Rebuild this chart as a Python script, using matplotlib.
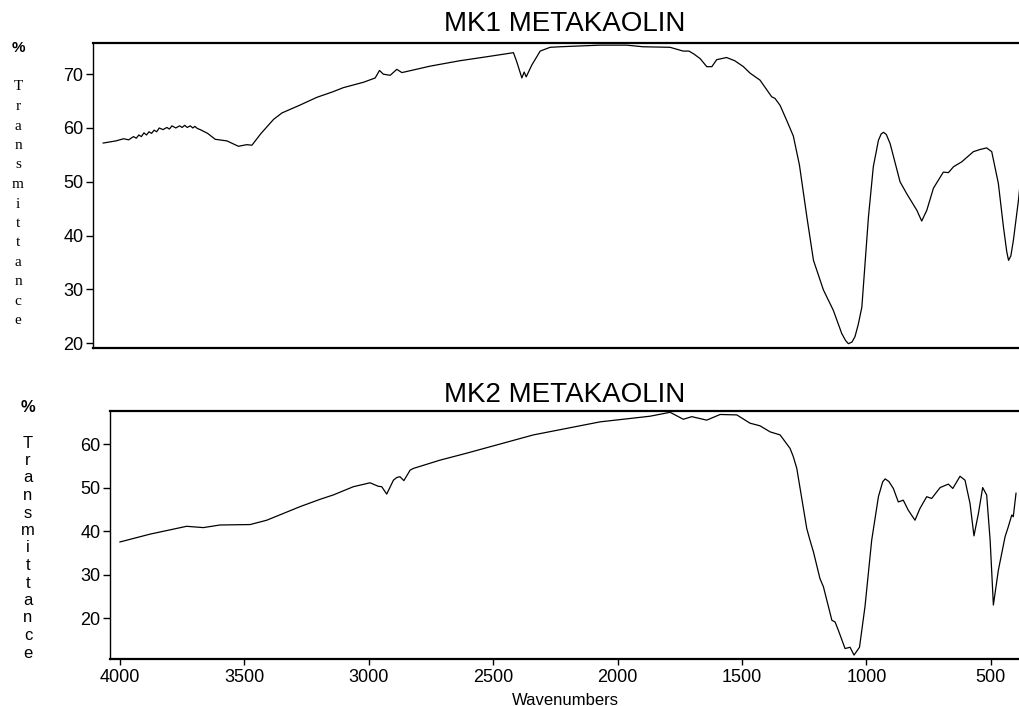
import matplotlib
matplotlib.use('Agg')
import matplotlib.pyplot as plt

# MK1 spectrum: wavenumber (cm-1) and % transmittance
mk1_wn = [4000, 3950, 3920, 3900, 3881, 3870, 3860, 3850, 3840, 3830, 3820, 3810, 3800,
          3790, 3780, 3765, 3750, 3740, 3730, 3715, 3700, 3690, 3680, 3670, 3658, 3648,
          3640, 3630, 3619, 3590, 3560, 3514, 3469, 3436, 3416, 3380, 3331, 3298,
          3230, 3161, 3100, 3057, 2978, 2932, 2915, 2900, 2873, 2847, 2827, 2716, 2600,
          2500, 2389, 2376, 2356, 2347, 2339, 2317, 2284, 2245, 2206, 2049, 1944, 1880,
          1774, 1723, 1700, 1682, 1656, 1630, 1610, 1591, 1552, 1520, 1486, 1460, 1421,
          1375, 1362, 1342, 1316, 1290, 1266, 1237, 1211, 1172, 1133, 1100, 1085, 1074,
          1060, 1048, 1035, 1021, 995, 976, 956, 945, 936, 925, 910, 871, 845, 805, 786,
          766, 740, 701, 681, 661, 629, 583, 557, 531, 511, 485, 465, 452, 445, 436, 426,
          406, 400]
mk1_t = [57.2, 57.6, 58.0, 57.8, 58.4, 58.1, 58.7, 58.4, 59.1, 58.7, 59.3, 59.0, 59.6,
         59.3, 60.0, 59.7, 60.1, 59.8, 60.4, 60.0, 60.4, 60.1, 60.5, 60.1, 60.4, 60.0,
         60.3, 59.9, 59.7, 59.0, 57.9, 57.6, 56.6, 56.9, 56.8, 59.0, 61.6, 62.8,
         64.2, 65.7, 66.7, 67.5, 68.5, 69.3, 70.7, 70.0, 69.8, 70.9, 70.3, 71.5, 72.5,
         73.2, 74.0, 72.3, 69.3, 70.4, 69.5, 71.7, 74.3, 75.0, 75.1, 75.4, 75.4, 75.1,
         75.0, 74.3, 74.3, 73.8, 72.9, 71.4, 71.4, 72.7, 73.1, 72.5, 71.4, 70.2, 68.9,
         65.8, 65.5, 64.2, 61.4, 58.5, 53.1, 43.5, 35.4, 29.9, 26.1, 21.8, 20.5, 19.9,
         20.2, 21.2, 23.5, 26.7, 43.5, 52.8, 57.7, 58.9, 59.2, 58.8, 57.1, 50.0, 47.8,
         44.7, 42.7, 44.7, 48.8, 51.8, 51.7, 52.8, 53.7, 55.6, 56.0, 56.3, 55.6, 49.7,
         41.6, 37.0, 35.4, 36.2, 39.1, 46.6, 49.4]

# MK2 spectrum
mk2_wn = [4000, 3879, 3732, 3665, 3598, 3477, 3410, 3277, 3196, 3143, 3062, 2995, 2962,
          2948, 2928, 2901, 2888, 2875, 2859, 2834, 2821, 2714, 2607, 2339, 2071, 1870,
          1789, 1736, 1702, 1642, 1588, 1521, 1468, 1428, 1387, 1347, 1307, 1294, 1280,
          1260, 1240, 1227, 1213, 1187, 1173, 1139, 1126, 1113, 1086, 1066, 1050, 1028,
          1006, 979, 952, 935, 925, 910, 892, 872, 852, 832, 805, 785, 758, 738, 704,
          671, 653, 624, 604, 584, 568, 550, 533, 517, 503, 490, 470, 443, 430, 416,
          410, 399]
mk2_t = [37.5, 39.3, 41.1, 40.8, 41.4, 41.5, 42.5, 45.6, 47.3, 48.3, 50.2, 51.1, 50.3,
         50.2, 48.5, 51.7, 52.3, 52.5, 51.6, 54.0, 54.4, 56.3, 57.9, 62.1, 65.1, 66.4,
         67.3, 65.7, 66.3, 65.5, 66.8, 66.7, 64.8, 64.2, 62.8, 62.1, 59.0, 57.1, 54.4,
         47.5, 40.6, 37.9, 35.2, 29.1, 27.2, 19.5, 19.1, 17.2, 13.0, 13.3, 11.5, 13.3,
         22.6, 37.9, 47.9, 51.3, 52.0, 51.4, 49.8, 46.7, 47.1, 44.8, 42.5, 45.2, 47.9,
         47.5, 50.0, 50.8, 49.8, 52.6, 51.7, 46.4, 38.9, 44.1, 50.0, 48.3, 37.9, 23.0,
         31.0, 38.7, 41.0, 43.7, 43.3, 48.7]

mk1_yticks = [20, 30, 40, 50, 60, 70]
mk2_yticks = [20, 30, 40, 50, 60]
x_ticks = [4000, 3500, 3000, 2500, 2000, 1500, 1000, 500]

fig = plt.figure(figsize=(10.2, 7.06), dpi=100)
plt.rcParams['font.family'] = ['Liberation Sans', 'DejaVu Sans']


def style_axes(ax):
    ax.spines['right'].set_visible(False)
    ax.spines['top'].set_linewidth(1.6)
    ax.spines['bottom'].set_linewidth(1.6)
    ax.spines['left'].set_linewidth(1.0)
    ax.tick_params(axis='y', direction='out', length=5, width=1, labelsize=13, pad=2)


def vertical_label(text, x, y_top, step, family, size):
    fig.text(x, y_top, '%', ha='center', va='center', fontsize=size,
             fontfamily='Liberation Sans', fontweight='bold')
    for i, ch in enumerate(text):
        fig.text(x, y_top - step * (i + 2), ch, ha='center', va='center',
                 fontsize=size, fontfamily=family)


# top panel
ax1 = fig.add_axes([93 / 1020, 1 - 348 / 706, 927 / 1020, 305 / 706])
ax1.plot(mk1_wn, mk1_t, color='black', lw=0.9)
ax1.set_xlim(4040, 400)
ax1.set_ylim(19.1, 75.8)
ax1.set_yticks(mk1_yticks)
ax1.set_xticks([])
style_axes(ax1)
fig.text(565 / 1020, 1 - 24 / 706, 'MK1 METAKAOLIN', ha='center', va='center', fontsize=20)

# bottom panel
ax2 = fig.add_axes([110 / 1020, 1 - 659 / 706, 910 / 1020, 248 / 706])
ax2.plot(mk2_wn, mk2_t, color='black', lw=0.9)
ax2.set_xlim(4040, 383)
ax2.set_ylim(10.6, 67.6)
ax2.set_yticks(mk2_yticks)
ax2.set_xticks(x_ticks)
style_axes(ax2)
ax2.tick_params(axis='x', direction='out', length=4, width=1, labelsize=13, pad=3)
ax2.set_xlabel('Wavenumbers', fontsize=12, labelpad=5)
fig.text(565 / 1020, 1 - 395 / 706, 'MK2 METAKAOLIN', ha='center', va='center', fontsize=20)

# stacked y-axis titles
vertical_label('Transmittance', 18 / 1020, 1 - 48 / 706, 19.5 / 706, 'Liberation Serif', 11)
vertical_label('Transmittance', 28 / 1020, 1 - 408 / 706, 17.5 / 706, 'Liberation Sans', 12)

fig.savefig('out.png', dpi=100)
